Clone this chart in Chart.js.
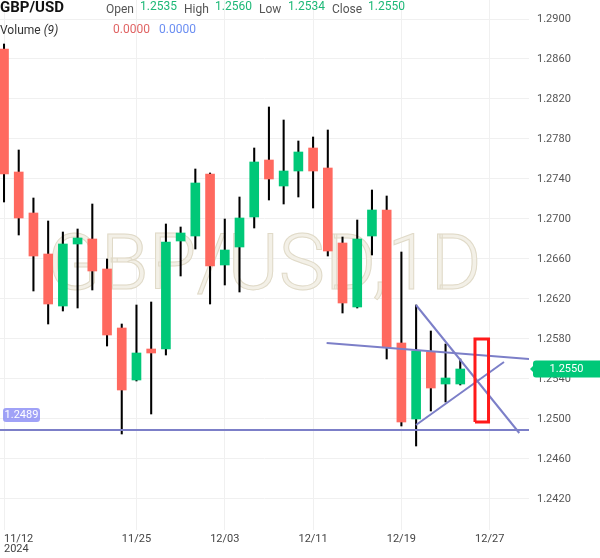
<!DOCTYPE html>
<html>
<head>
<meta charset="utf-8">
<script src="https://cdn.jsdelivr.net/npm/chart.js@4.4.1/dist/chart.umd.min.js"></script>
<style>
  body { margin: 0; background: #fff; }
  #wrap { position: relative; width: 600px; height: 558px; font-family: Roboto, sans-serif; }
  #wrap span { position: absolute; white-space: nowrap; font-size: 12px; line-height: 12px; }
  .lbl { color: #555; }
  .val { color: #1db877; }
</style>
</head>
<body>
<div id="wrap">
  <canvas id="chart" width="600" height="558"></canvas>
  <span style="left:0;top:0;font-size:15px;line-height:15px;font-weight:bold;color:#111">GBP/USD</span>
  <span class="lbl" style="left:106px;top:3px">Open</span>
  <span class="val" id="hOpen" style="left:140px;top:0"></span>
  <span class="lbl" style="left:184px;top:3px">High</span>
  <span class="val" id="hHigh" style="left:215px;top:0"></span>
  <span class="lbl" style="left:259px;top:3px">Low</span>
  <span class="val" id="hLow" style="left:288px;top:0"></span>
  <span class="lbl" style="left:332px;top:3px">Close</span>
  <span class="val" id="hClose" style="left:368px;top:0"></span>
  <span style="left:0;top:24px;color:#333">Volume <i>(9)</i></span>
  <span id="vol1" style="left:113px;top:23px;color:#e06464"></span>
  <span id="vol2" style="left:159px;top:23px;color:#6b8ef2"></span>
</div>
<script>
// daily candles GBP/USD
const dates = ['11/12','11/13','11/14','11/15','11/18','11/19','11/20','11/21','11/22',
  '11/25','11/26','11/27','11/28','11/29','12/02','12/03','12/04','12/05','12/06',
  '12/09','12/10','12/11','12/12','12/13','12/16','12/17','12/18','12/19','12/20',
  '12/23','12/24','12/25'];
const futureDates = ['12/26','12/27'];
const opens  = [1.2870,1.2747,1.2706,1.2665,1.2613,1.2675,1.2680,1.2650,1.2591,
  1.2539,1.2570,1.2570,1.2678,1.2683,1.2745,1.2654,1.2672,1.2702,1.2759,
  1.2733,1.2748,1.2771,1.2751,1.2676,1.2612,1.2683,1.2709,1.2576,1.2500,
  1.2567,1.2535,1.2535];
const highs  = [1.2875,1.2769,1.2721,1.2698,1.2687,1.2690,1.2715,1.2660,1.2595,
  1.2614,1.2617,1.2695,1.2692,1.2750,1.2746,1.2700,1.2722,1.2771,1.2812,
  1.2799,1.2778,1.2782,1.2789,1.2682,1.2699,1.2729,1.2723,1.2667,1.2614,
  1.2588,1.2575,1.2560];
const lows   = [1.2717,1.2684,1.2628,1.2595,1.2608,1.2611,1.2629,1.2573,1.2485,
  1.2538,1.2505,1.2564,1.2643,1.2670,1.2615,1.2634,1.2627,1.2691,1.2719,
  1.2715,1.2722,1.2711,1.2663,1.2606,1.2611,1.2664,1.2560,1.2493,1.2473,
  1.2508,1.2517,1.2534];
const closes = [1.2745,1.2701,1.2663,1.2615,1.2675,1.2681,1.2648,1.2584,1.2529,
  1.2566,1.2566,1.2677,1.2686,1.2736,1.2653,1.2669,1.2701,1.2757,1.2740,
  1.2748,1.2767,1.2748,1.2668,1.2616,1.2680,1.2709,1.2572,1.2497,1.2568,
  1.2531,1.2541,1.2550];
const volumes = [0, 0];

const tickDates = ['11/12','11/25','12/03','12/11','12/19','12/27'];
const yTicks = [1.2420,1.2460,1.2500,1.2540,1.2580,1.2620,1.2660,1.2700,
  1.2740,1.2780,1.2820,1.2860,1.2900];

// drawings (x = bar index, y = price)
const supportLevel = 1.2489;
const lineTop = [{ x: 21.92, y: 1.2576 }, { x: 35.67, y: 1.2560 }];
const lineDown = [{ x: 27.99, y: 1.2614 }, { x: 35.01, y: 1.2486 }];
const lineUp = [{ x: 27.99, y: 1.2494 }, { x: 33.97, y: 1.2557 }];
const boxX = [32.0, 32.92];
const boxY = [1.2497, 1.2580];

const xMin = -0.272, xMax = 35.67;
const yMin = 1.2389, yMax = 1.2919;

const allDates = dates.concat(futureDates);
const tickIdx = tickDates.map(d => allDates.indexOf(d));
const last = closes.length - 1;

document.getElementById('hOpen').textContent = opens[last].toFixed(4);
document.getElementById('hHigh').textContent = highs[last].toFixed(4);
document.getElementById('hLow').textContent = lows[last].toFixed(4);
document.getElementById('hClose').textContent = closes[last].toFixed(4);
document.getElementById('vol1').textContent = volumes[0].toFixed(4);
document.getElementById('vol2').textContent = volumes[1].toFixed(4);

const UP = '#00c878', DOWN = '#ff695f', DRAW = '#7c7fc8';

Chart.defaults.font.family = 'Roboto';

function roundRect(ctx, x, y, w, h, r) {
  ctx.beginPath();
  ctx.moveTo(x + r, y);
  ctx.arcTo(x + w, y, x + w, y + h, r);
  ctx.arcTo(x + w, y + h, x, y + h, r);
  ctx.arcTo(x, y + h, x, y, r);
  ctx.arcTo(x, y, x + w, y, r);
  ctx.closePath();
}

const overlay = {
  id: 'overlay',
  beforeDatasetsDraw(chart) {
    const { ctx, chartArea } = chart;
    const text = 'GBP/USD,1D';
    ctx.save();
    ctx.font = '300 78px Roboto';
    ctx.textAlign = 'center';
    ctx.textBaseline = 'alphabetic';
    const cx = (chartArea.left + chartArea.right) / 2;
    const cy = (chartArea.top + chartArea.bottom) / 2 + 24;
    ctx.fillStyle = '#f3f0e7';
    ctx.fillText(text, cx, cy);
    ctx.strokeStyle = '#e0dac8';
    ctx.lineWidth = 1;
    ctx.strokeText(text, cx, cy);
    ctx.restore();
  },
  afterDraw(chart) {
    const { ctx, chartArea, scales } = chart;
    ctx.save();
    // last price tag
    const yc = scales.y.getPixelForValue(closes[last]);
    const x0 = chartArea.right + 4;
    ctx.fillStyle = UP;
    roundRect(ctx, x0, yc - 8.5, chart.width - x0 + 3, 17, 3);
    ctx.fill();
    ctx.beginPath();
    ctx.moveTo(x0 - 3, yc);
    ctx.lineTo(x0 + 1, yc - 4);
    ctx.lineTo(x0 + 1, yc + 4);
    ctx.fill();
    ctx.fillStyle = '#fff';
    ctx.font = '11px Roboto';
    ctx.textAlign = 'center';
    ctx.textBaseline = 'middle';
    ctx.fillText(closes[last].toFixed(4), x0 + (chart.width - x0) / 2, yc + 0.5);
    // support level tag
    const ys = scales.y.getPixelForValue(supportLevel);
    ctx.fillStyle = 'rgba(128,131,244,0.75)';
    roundRect(ctx, chartArea.left + 3, ys - 22, 37, 14, 3);
    ctx.fill();
    ctx.fillStyle = '#fff';
    ctx.fillText(supportLevel.toFixed(4), chartArea.left + 21.5, ys - 14.5);
    ctx.restore();
  }
};

const ctx = document.getElementById('chart').getContext('2d');
new Chart(ctx, {
  type: 'bar',
  data: {
    datasets: [
      {
        type: 'line', order: -1,
        data: [{ x: xMin, y: supportLevel }, { x: xMax, y: supportLevel }],
        borderColor: DRAW, borderWidth: 2, pointRadius: 0
      },
      { type: 'line', order: -1, data: lineTop, borderColor: DRAW, borderWidth: 2, pointRadius: 0 },
      { type: 'line', order: -1, data: lineDown, borderColor: DRAW, borderWidth: 2, pointRadius: 0 },
      { type: 'line', order: -1, data: lineUp, borderColor: DRAW, borderWidth: 2, pointRadius: 0 },
      {
        type: 'line', order: -2,
        data: [
          { x: boxX[0], y: boxY[0] }, { x: boxX[0], y: boxY[1] },
          { x: boxX[1], y: boxY[1] }, { x: boxX[1], y: boxY[0] },
          { x: boxX[0], y: boxY[0] }
        ],
        borderColor: '#ff1a1a', borderWidth: 3, pointRadius: 0, borderJoinStyle: 'miter'
      },
      {
        label: 'body', order: 1, grouped: false,
        data: opens.map((o, i) => ({ x: i, y: [o, closes[i]] })),
        backgroundColor: opens.map((o, i) => closes[i] >= o ? UP : DOWN),
        barThickness: 9, borderWidth: 0
      },
      {
        label: 'wick', order: 2, grouped: false,
        data: lows.map((l, i) => ({ x: i, y: [l, highs[i]] })),
        backgroundColor: '#000',
        barThickness: 1.4, borderWidth: 0
      }
    ]
  },
  options: {
    responsive: false,
    animation: false,
    devicePixelRatio: 1,
    layout: { padding: 0 },
    plugins: { legend: { display: false }, tooltip: { enabled: false } },
    scales: {
      x: {
        type: 'linear', min: xMin, max: xMax, offset: false,
        afterBuildTicks: s => { s.ticks = tickIdx.concat([xMax]).map(v => ({ value: v })); },
        afterFit: s => { s.height = 28; s.paddingLeft = 0; s.paddingRight = 0; },
        grid: {
          offset: false, drawTicks: false,
          color: c => (c.tick && c.tick.value === xMax) ? 'rgba(0,0,0,0)' : '#f0f0f0'
        },
        border: { display: false },
        ticks: {
          autoSkip: false, maxRotation: 0, align: 'inner', padding: 4,
          color: '#444', font: { size: 11, lineHeight: 0.9 },
          callback: (v, i) => {
            const d = allDates[v];
            if (!d) return '';
            return i === 0 ? [d, '2024'] : d;
          }
        }
      },
      y: {
        position: 'right', min: yMin, max: yMax,
        afterBuildTicks: s => { s.ticks = yTicks.map(v => ({ value: v })); },
        afterFit: s => { s.width = 71; s.paddingTop = 0; s.paddingBottom = 0; },
        grid: { color: '#f0f0f0', drawTicks: false },
        border: { display: false },
        ticks: { padding: 8, color: '#555', font: { size: 11 }, callback: v => v.toFixed(4) }
      }
    }
  },
  plugins: [overlay]
});
</script>
</body>
</html>
